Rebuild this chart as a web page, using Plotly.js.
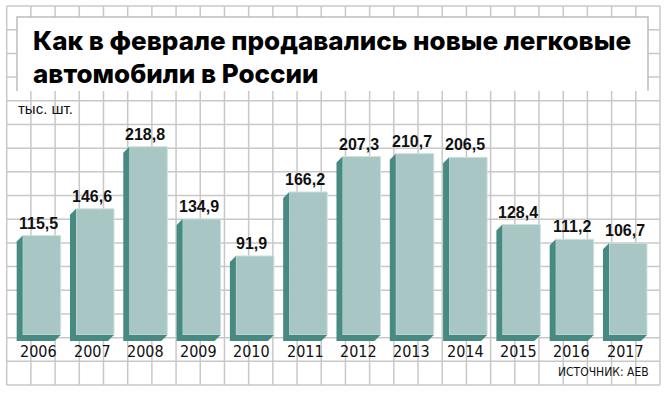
<!DOCTYPE html>
<html>
<head>
<meta charset="utf-8">
<script src="https://cdn.plot.ly/plotly-3.0.1.min.js"></script>
<style>html,body{margin:0;padding:0;background:#fff;}#chart{width:668px;height:393px;}</style>
</head>
<body>
<div id="chart"></div>
<script>
// ---- data ----
const years = ['2006','2007','2008','2009','2010','2011','2012','2013','2014','2015','2016','2017'];
const sales = [115.5, 146.6, 218.8, 134.9, 91.9, 166.2, 207.3, 210.7, 206.5, 128.4, 111.2, 106.7];
const titleLines = ['Как в феврале продавались новые легковые', 'автомобили в России'];
const unitLabel = 'тыс. шт.';
const sourceLabel = 'ИСТОЧНИК: AEB';

// ---- geometry / style ----
const W = 668, H = 393;
const barW = 0.713;          // in category units
const dx = 0.113;            // extrusion offset x (category units)
const dy = 6.97;             // extrusion offset y (value units)
const xs = years.map((_, i) => i);

// extrusion (side) polygons built from data
const sx = [], sy = [];
sales.forEach((v, i) => {
  const x0 = i - barW / 2, x1 = i + barW / 2;
  sx.push(x0, x0 - dx, x0 - dx, x1 - dx, x1, x0, x0, null);
  sy.push(v, v - dy, -dy, -dy, 0, 0, v, null);
});

const side = {
  type: 'scatter', mode: 'lines', x: sx, y: sy, fill: 'toself',
  fillcolor: '#468a81', line: {width: 0, color: '#468a81'}, hoverinfo: 'skip'
};
const front = {
  type: 'bar', x: xs, y: sales, width: barW,
  marker: {color: '#a7c6c4', line: {color: '#cfe1df', width: 1}},
  hoverinfo: 'skip'
};

// grid shapes (background)
const shapes = [];
const gx0 = 6.7, gx1 = 660, gy0 = 6, gy1 = 385;
const nCols = 27, nRows = 16;
const gridColor = '#c8c8c8';
for (let k = 0; k <= nCols; k++) {
  const px = gx0 + (gx1 - gx0) * k / nCols;
  shapes.push({type: 'line', xref: 'paper', yref: 'paper', layer: 'below',
    x0: px / W, x1: px / W, y0: 1 - gy0 / H, y1: 1 - gy1 / H,
    line: {color: gridColor, width: 1.5}});
}
for (let j = 0; j <= nRows; j++) {
  const py = gy0 + (gy1 - gy0) * j / nRows;
  shapes.push({type: 'line', xref: 'paper', yref: 'paper', layer: 'below',
    x0: gx0 / W, x1: gx1 / W, y0: 1 - py / H, y1: 1 - py / H,
    line: {color: gridColor, width: 1.5}});
}
// title box
const bx0 = 17, bx1 = 648, by0 = 17, by1 = 91;
shapes.push({type: 'rect', xref: 'paper', yref: 'paper', layer: 'below',
  x0: bx0 / W, x1: bx1 / W, y0: 1 - by0 / H, y1: 1 - by1 / H,
  fillcolor: '#ffffff', line: {width: 0}});
shapes.push({type: 'path', xref: 'paper', yref: 'paper', layer: 'below',
  path: `M ${bx0/W} ${1-by1/H} L ${bx0/W} ${1-by0/H} L ${bx1/W} ${1-by0/H} L ${bx1/W} ${1-by1/H}`,
  line: {color: '#bdbdbd', width: 1.5}});

const narrow = '"Liberation Sans Narrow", "Arial Narrow", "DejaVu Sans Condensed", sans-serif';
const annotations = [];
sales.forEach((v, i) => {
  annotations.push({x: i, y: v, xref: 'x', yref: 'y', text: v.toFixed(1).replace('.', ','),
    showarrow: false, xanchor: 'center', yanchor: 'middle', xshift: -3, yshift: 12.5,
    font: {family: '"Liberation Sans", Arial, sans-serif', size: 16, color: '#111', weight: 700}});
  annotations.push({x: i, y: 0, xref: 'x', yref: 'y', text: years[i],
    showarrow: false, xanchor: 'center', yanchor: 'middle', xshift: -3, yshift: -16,
    font: {family: narrow, size: 16, color: '#111'}});
});
annotations.push({x: 31 / W, y: 1 - 40 / H, xref: 'paper', yref: 'paper', text: titleLines[0],
  showarrow: false, xanchor: 'left', yanchor: 'middle',
  font: {family: 'Inter, "Noto Sans", sans-serif', size: 26, color: '#000', weight: 800}});
annotations.push({x: 31 / W, y: 1 - 73 / H, xref: 'paper', yref: 'paper', text: titleLines[1],
  showarrow: false, xanchor: 'left', yanchor: 'middle',
  font: {family: 'Inter, "Noto Sans", sans-serif', size: 26, color: '#000', weight: 800}});
annotations.push({x: 16 / W, y: 1 - 108 / H, xref: 'paper', yref: 'paper', text: unitLabel,
  showarrow: false, xanchor: 'left', yanchor: 'middle',
  font: {family: '"Liberation Sans", Arial, sans-serif', size: 15, color: '#111'}});
annotations.push({x: 651 / W, y: 1 - 372 / H, xref: 'paper', yref: 'paper', text: sourceLabel,
  showarrow: false, xanchor: 'right', yanchor: 'middle',
  font: {family: narrow, size: 12, color: '#111'}});

// axes mapping: category i centre at px 41.7 + 53.3*i ; value 0 at px 335, 0.8606 px/unit
const xr = [(0 - 41.7) / 53.3, (W - 41.7) / 53.3];
const yr = [-(H - 335) / 0.8606, 335 / 0.8606];

const layout = {
  width: W, height: H,
  margin: {l: 0, r: 0, t: 0, b: 0, pad: 0},
  paper_bgcolor: '#ffffff', plot_bgcolor: 'rgba(0,0,0,0)',
  showlegend: false, hovermode: false,
  xaxis: {range: xr, visible: false, fixedrange: true},
  yaxis: {range: yr, visible: false, fixedrange: true},
  shapes: shapes, annotations: annotations
};

Plotly.newPlot('chart', [side, front], layout, {staticPlot: true, displayModeBar: false});
</script>
</body>
</html>
